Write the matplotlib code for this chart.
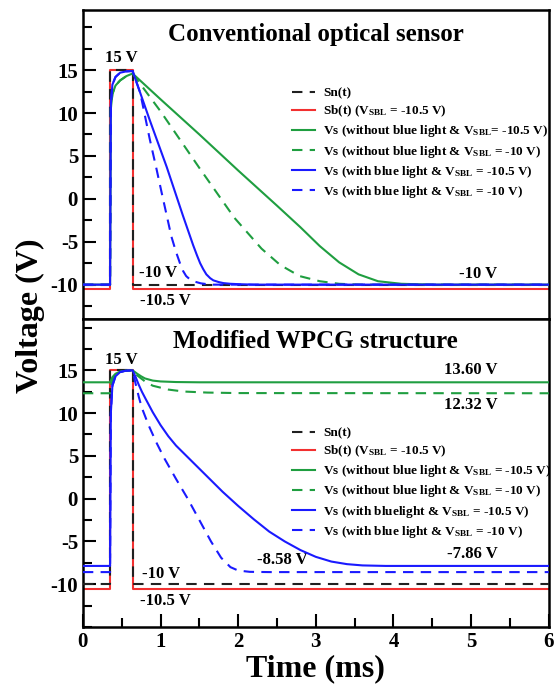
import matplotlib
matplotlib.use('Agg')
import matplotlib.pyplot as plt
from matplotlib.ticker import MultipleLocator

plt.rcParams['font.family'] = 'Liberation Serif'
plt.rcParams['font.weight'] = 'bold'
plt.rcParams['axes.unicode_minus'] = False
plt.rcParams['mathtext.fontset'] = 'custom'
plt.rcParams['mathtext.rm'] = 'Liberation Serif:bold'
plt.rcParams['mathtext.bf'] = 'Liberation Serif:bold'
plt.rcParams['mathtext.it'] = 'Liberation Serif:bold:italic'

# gate pulses (ms, V)
pulse_t = [0, 0.35, 0.35, 0.64, 0.64, 6]
sn_v = [-10, -10, 15, 15, -10, -10]
sb_v = [-10.5, -10.5, 15, 15, -10.5, -10.5]

# ---- conventional optical sensor ----
conv_rise_t = [0, 0.35, 0.36, 0.38, 0.42, 0.48, 0.56, 0.64]
conv_green_rise = [-10, -10, 10.5, 12.2, 13.2, 13.8, 14.3, 14.6]
conv_blue_rise = [-10, -10, 11.0, 13.3, 14.2, 14.7, 14.85, 14.9]

conv_gs_t = [0.64, 1.0, 1.5, 2.0, 2.5, 2.8, 3.05, 3.3, 3.55, 3.8, 4.1, 4.5, 6]
conv_gs_v = [14.6, 11.6, 7.5, 3.3, -0.8, -3.3, -5.5, -7.4, -8.8, -9.6, -9.9, -10, -10]

conv_gd_t = [0.64, 1.0, 1.5, 1.95, 2.3, 2.54, 2.79, 3.05, 3.3, 3.6, 6]
conv_gd_v = [14.6, 10.2, 3.6, -2.2, -5.8, -7.7, -9.0, -9.6, -9.9, -10, -10]

conv_bs_t = [0.64, 0.86, 1.08, 1.29, 1.42, 1.47, 1.51, 1.55, 1.59, 1.64, 1.68,
             1.75, 1.81, 1.9, 2.02, 2.2, 6]
conv_bs_v = [14.9, 9.2, 3.7, -2.0, -5.4, -6.6, -7.5, -8.2, -8.8, -9.25, -9.5,
             -9.7, -9.82, -9.9, -9.95, -10, -10]

conv_bd_t = [0.64, 0.74, 0.86, 0.95, 1.01, 1.14, 1.2, 1.25, 1.29, 1.33, 1.38,
             1.44, 1.52, 1.65, 6]
conv_bd_v = [14.9, 12.3, 7.0, 3.4, 0.9, -4.4, -6.2, -7.5, -8.4, -9.0, -9.4,
             -9.65, -9.85, -10, -10]

# ---- modified WPCG structure ----
mod_gs_t = [0, 0.35, 0.38, 0.42, 0.48, 0.55, 0.64, 0.7, 0.75, 0.8, 0.9, 1.0, 1.2, 1.5, 6]
mod_gs_v = [13.6, 13.6, 14.2, 14.6, 14.85, 14.95, 15, 14.6, 14.3, 14.05, 13.8, 13.7,
            13.63, 13.6, 13.6]

mod_gd_t = [0, 0.35, 0.37, 0.40, 0.45, 0.52, 0.64, 0.7, 0.8, 0.9, 1.1, 1.3, 1.6, 2.0, 6]
mod_gd_v = [12.32, 12.32, 13.5, 14.3, 14.75, 14.92, 15, 14.4, 13.7, 13.2, 12.75, 12.52,
            12.4, 12.34, 12.32]

mod_bs_t = [0, 0.35, 0.36, 0.38, 0.42, 0.48, 0.55, 0.64, 0.68, 0.72, 0.76, 0.8, 0.9,
            1.0, 1.1, 1.2, 1.4, 1.6, 1.8, 2.0, 2.2, 2.4, 2.6, 2.8, 3.0, 3.2, 3.4, 3.6,
            3.9, 6]
mod_bs_v = [-7.86, -7.86, 10, 13.2, 14.3, 14.8, 14.95, 15, 14.2, 13.3, 12.5, 11.8, 10.1,
            8.6, 7.3, 6.2, 4.4, 2.6, 0.8, -0.85, -2.4, -3.85, -5.0, -6.0, -6.8, -7.35,
            -7.65, -7.8, -7.86, -7.86]

mod_bd_t = [0, 0.35, 0.36, 0.38, 0.42, 0.48, 0.55, 0.64, 0.68, 0.72, 0.76, 0.85, 0.95,
            1.05, 1.2, 1.35, 1.5, 1.65, 1.78, 1.9, 2.0, 2.15, 2.4, 6]
mod_bd_v = [-8.58, -8.58, 10, 13.2, 14.3, 14.8, 14.95, 15, 13.4, 11.9, 10.6, 8.5, 6.5,
            4.7, 2.3, 0.0, -2.5, -5.0, -6.9, -8.0, -8.4, -8.55, -8.58, -8.58]

RED = '#f23030'
GREEN = '#1f9e40'
BLUE = '#1a1aff'
BLACK = '#202020'
DASH = (5, 3.5)
LW = 1.5

labels_conv = ['Sn(t)',
               r'Sb(t) (V$_{\rm SBL}$ = -10.5 V)',
               r'Vs (without blue light & V$_{\rm SBL}$= -10.5 V)',
               r'Vs (without blue light & V$_{\rm SBL}$ = -10 V)',
               r'Vs (with blue light & V$_{\rm SBL}$ = -10.5 V)',
               r'Vs (with blue light & V$_{\rm SBL}$ = -10 V)']
labels_mod = ['Sn(t)',
              r'Sb(t) (V$_{\rm SBL}$ = -10.5 V)',
              r'Vs (without blue light & V$_{\rm SBL}$ = -10.5 V)',
              r'Vs (without blue light & V$_{\rm SBL}$ = -10 V)',
              r'Vs (with bluelight & V$_{\rm SBL}$ = -10.5 V)',
              r'Vs (with blue light & V$_{\rm SBL}$ = -10 V)']


def draw_panel(ax, gs, gd, bs, bd, labels):
    ax.plot(pulse_t, sn_v, color=BLACK, lw=LW, dashes=DASH, label=labels[0], zorder=3)
    ax.plot(pulse_t, sb_v, color=RED, lw=LW, label=labels[1], zorder=2)
    ax.plot(gs[0], gs[1], color=GREEN, lw=LW, label=labels[2], zorder=4)
    ax.plot(gd[0], gd[1], color=GREEN, lw=LW, dashes=DASH, label=labels[3], zorder=4)
    ax.plot(bs[0], bs[1], color=BLUE, lw=LW, label=labels[4], zorder=5)
    ax.plot(bd[0], bd[1], color=BLUE, lw=LW, dashes=DASH, label=labels[5], zorder=5)
    ax.set_xlim(0, 6)
    ax.yaxis.set_major_locator(MultipleLocator(5))
    ax.yaxis.set_minor_locator(MultipleLocator(2.5))
    ax.xaxis.set_major_locator(MultipleLocator(1))
    ax.xaxis.set_minor_locator(MultipleLocator(0.5))
    ax.tick_params(which='both', direction='in', width=1.5, labelsize=15,
                   top=False, right=False)
    ax.tick_params(which='major', length=9.5)
    ax.tick_params(which='minor', length=6.3)
    for s in ax.spines.values():
        s.set_linewidth(1.8)
    for lab in ax.get_yticklabels() + ax.get_xticklabels():
        lab.set_fontweight('bold')
    ax.legend(loc='upper left', frameon=False, fontsize=9.5, handlelength=1.77,
              handletextpad=0.63, labelspacing=0.32, borderpad=0, borderaxespad=0)


fig = plt.figure(figsize=(5.6, 6.96), dpi=100)
ax1 = fig.add_axes([0.148, 0.5417, 0.832, 0.4439])
ax2 = fig.add_axes([0.148, 0.0991, 0.832, 0.4426], sharex=ax1)

# conventional pixel
conv_gs = (conv_rise_t + conv_gs_t, conv_green_rise + conv_gs_v)
conv_gd = (conv_rise_t + conv_gd_t, conv_green_rise + conv_gd_v)
conv_bs = (conv_rise_t + conv_bs_t, conv_blue_rise + conv_bs_v)
conv_bd = (conv_rise_t + conv_bd_t, conv_blue_rise + conv_bd_v)
draw_panel(ax1, conv_gs, conv_gd, conv_bs, conv_bd, labels_conv)
ax1.set_ylim(-14, 22)
ax1.set_yticks([-10, -5, 0, 5, 10, 15])
ax1.tick_params(axis='x', which='both', bottom=False, labelbottom=False)
ax1.get_legend().set_bbox_to_anchor((0.448, 0.750), transform=ax1.transAxes)
ax1.text(0.5, 0.922, 'Conventional optical sensor', transform=ax1.transAxes,
         fontsize=18, ha='center', va='center')
ax1.text(0.5, 16.4, '15 V', fontsize=12, ha='center', va='center')
ax1.text(0.97, -8.6, '-10 V', fontsize=12, ha='center', va='center')
ax1.text(1.06, -11.9, '-10.5 V', fontsize=12, ha='center', va='center')
ax1.text(5.09, -8.8, '-10 V', fontsize=12, ha='center', va='center')

# modified pixel
draw_panel(ax2, (mod_gs_t, mod_gs_v), (mod_gd_t, mod_gd_v),
           (mod_bs_t, mod_bs_v), (mod_bd_t, mod_bd_v), labels_mod)
ax2.set_ylim(-15, 21)
ax2.set_yticks([-10, -5, 0, 5, 10, 15])
ax2.get_legend().set_bbox_to_anchor((0.448, 0.649), transform=ax2.transAxes)
ax2.text(0.5, 0.926, 'Modified WPCG structure', transform=ax2.transAxes,
         fontsize=18, ha='center', va='center')
ax2.text(0.5, 16.2, '15 V', fontsize=12, ha='center', va='center')
ax2.text(5.0, 15.0, '13.60 V', fontsize=12, ha='center', va='center')
ax2.text(5.0, 10.9, '12.32 V', fontsize=12, ha='center', va='center')
ax2.text(2.57, -7.2, '-8.58 V', fontsize=12, ha='center', va='center')
ax2.text(5.02, -6.5, '-7.86 V', fontsize=12, ha='center', va='center')
ax2.text(1.01, -8.75, '-10 V', fontsize=12, ha='center', va='center')
ax2.text(1.06, -12.0, '-10.5 V', fontsize=12, ha='center', va='center')
ax2.set_xlabel('Time (ms)', fontsize=23, fontweight='bold', labelpad=2)

fig.text(0.054, 0.547, 'Voltage (V)', fontsize=23, fontweight='bold',
         rotation=90, ha='center', va='center')

fig.savefig('out.png', dpi=100)
